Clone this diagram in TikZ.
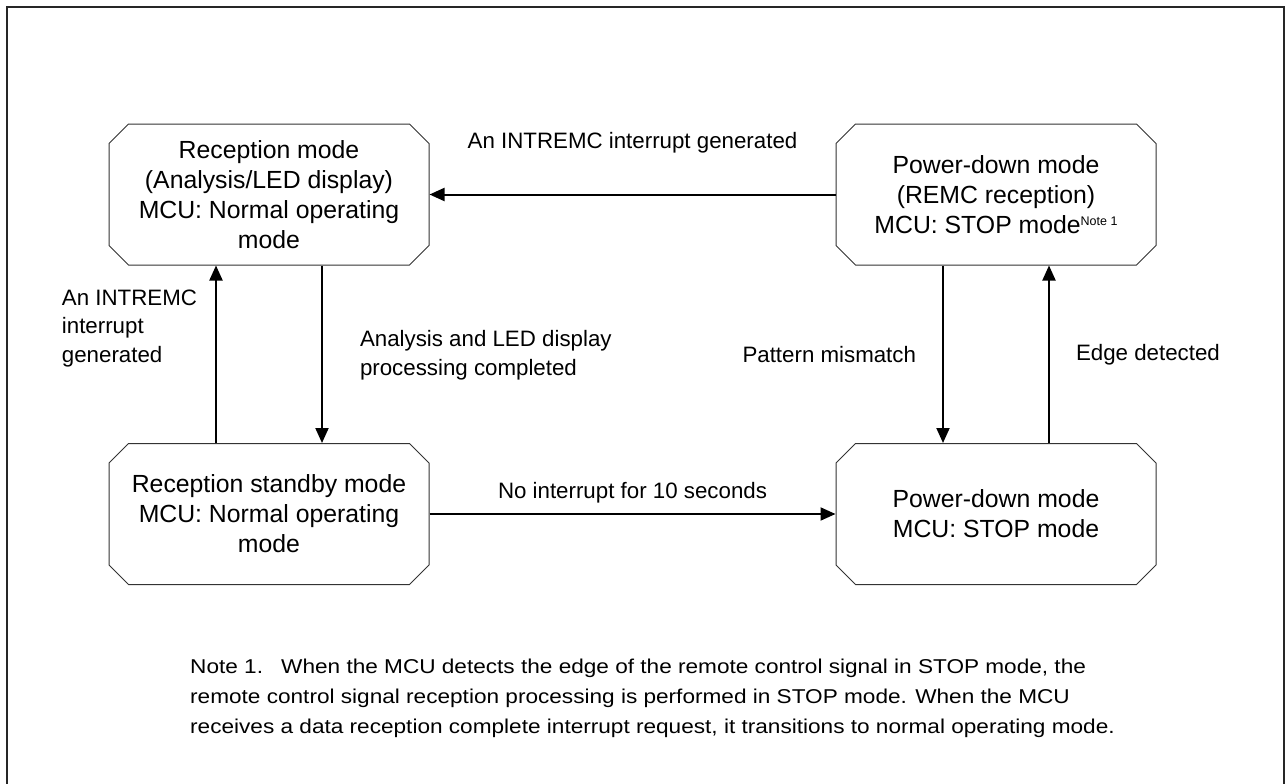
\documentclass[tikz,border=0pt]{standalone}
\usepackage{fontspec}
\setmainfont{Liberation Sans}
\newfontfamily\notefont[FakeStretch=1.13]{Liberation Sans}
\usetikzlibrary{shapes.misc,arrows.meta}
\tikzset{
  modebox/.style={draw=black!80, line width=1pt, chamfered rectangle,
    chamfered rectangle xsep=16pt, minimum width=320pt, minimum height=141pt,
    inner sep=0pt, align=center, font=\fontsize{24.8}{30}\selectfont},
  flow/.style={line width=2pt, -{Triangle[length=15pt,width=13pt]}},
  lbl/.style={inner sep=0pt, font=\fontsize{22.3}{28.5}\selectfont},
  notetext/.style={inner sep=0pt, align=left, font=\notefont\fontsize{20}{30}\selectfont},
}
\newcommand{\notemark}{\raisebox{8pt}{\fontsize{12.5}{12.5}\selectfont Note 1}}
\begin{document}
\begin{tikzpicture}[x=1pt,y=-1pt]
  \useasboundingbox (0,0) rectangle (1286,784);
  \draw[black!85, line width=1.2pt] (7,790) -- (7,7) -- (1284,7) -- (1284,790);
  \draw
    (269,194.5) node[modebox] (rx) {Reception mode\\(Analysis/LED display)\\MCU: Normal operating\\mode}
    (996,194.5) node[modebox] (pr) {Power-down mode\\(REMC reception)\\MCU: STOP mode\notemark}
    (269,514) node[modebox] (sb) {Reception standby mode\\MCU: Normal operating\\mode}
    (996,514) node[modebox] (pd) {Power-down mode\\MCU: STOP mode};
  \begin{scope}[flow]
    \draw (pr.west) to node[lbl, yshift=52pt] {An INTREMC interrupt generated} (rx.east);
    \draw ([xshift=-53pt]sb.north) to node[lbl, anchor=east, align=left, xshift=-18pt, yshift=26pt] {An INTREMC\\interrupt\\generated} ([xshift=-53pt]rx.south);
    \draw ([xshift=53pt]rx.south) to node[lbl, anchor=west, align=left, xshift=37pt, yshift=-1pt] {Analysis and LED display\\processing completed} ([xshift=53pt]sb.north);
    \draw (sb.east) to node[lbl, yshift=21pt] {No interrupt for 10 seconds} (pd.west);
    \draw ([xshift=-53pt]pr.south) to node[lbl, anchor=east, xshift=-26pt] {Pattern mismatch} ([xshift=-53pt]pd.north);
    \draw ([xshift=53pt]pd.north) to node[lbl, anchor=west, xshift=26pt] {Edge detected} ([xshift=53pt]pr.south);
  \end{scope}
  \node[notetext, anchor=north west] (note) at (190,659) {\makebox[91pt][l]{Note 1.}When the MCU detects the edge of the remote control signal in STOP mode, the\\remote control signal reception processing is performed in STOP mode. When the MCU\\receives a data reception complete interrupt request, it transitions to normal operating mode.};
\end{tikzpicture}
\end{document}
